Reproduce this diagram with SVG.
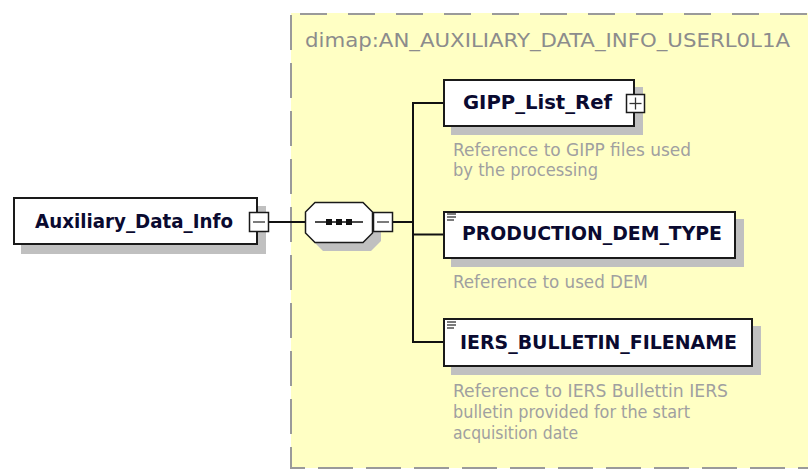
<svg xmlns="http://www.w3.org/2000/svg" width="808" height="471" viewBox="0 0 808 471">
<style>
.box{fill:#fff;stroke:#1a1a1a;stroke-width:2}
.shadow{fill:#c0c0c0}
.lbl{font-family:"DejaVu Sans Condensed","DejaVu Sans",sans-serif;font-weight:bold;font-size:20px;fill:#0a0a30}
.desc{font-family:"DejaVu Sans Condensed","DejaVu Sans",sans-serif;font-size:17px;fill:#a0a0a0}
.title{font-family:"DejaVu Sans Condensed","DejaVu Sans",sans-serif;font-size:19px;fill:#8c8c8c}
.conn{stroke:#111;stroke-width:2;fill:none}
.sym{fill:#fff;stroke:#1a1a1a;stroke-width:1.5}
.ico{stroke:#333;stroke-width:1.3}
</style>
<g id="type-group">
<rect x="291" y="13" width="517" height="455" fill="#ffffc4"/>
<line x1="300" y1="14" x2="808" y2="14" stroke="#9a9a9a" stroke-width="2" stroke-dasharray="27 21"/>
<path d="M291 15 V468 H808" fill="none" stroke="#9a9a9a" stroke-width="2" stroke-dasharray="35 13"/>
<text class="title" x="305" y="47" textLength="485" lengthAdjust="spacingAndGlyphs">dimap:AN_AUXILIARY_DATA_INFO_USERL0L1A</text>
</g>
<g id="connectors">
<line class="conn" x1="269" y1="222" x2="305" y2="222"/>
<line class="conn" x1="393" y1="222" x2="413" y2="222"/>
<line class="conn" x1="413" y1="103" x2="413" y2="343"/>
<line class="conn" x1="412" y1="103" x2="443" y2="103"/>
<line class="conn" x1="412" y1="234.5" x2="443" y2="234.5"/>
<line class="conn" x1="412" y1="342" x2="443" y2="342"/>
</g>
<g id="Auxiliary_Data_Info">
<rect class="shadow" x="21" y="206" width="245" height="48"/>
<rect class="box" x="14" y="198" width="243" height="46"/>
<text class="lbl" x="35" y="228" textLength="198" lengthAdjust="spacingAndGlyphs">Auxiliary_Data_Info</text>
<rect class="sym" x="249.5" y="212.5" width="19" height="19"/>
<line class="ico" x1="253" y1="222" x2="265" y2="222"/>
</g>
<g id="sequence">
<polygon class="shadow" points="323,210 371,210 381,220 381,241 371,251 323,251 313,241 313,220"/>
<polygon class="sym" points="315,202.5 363,202.5 372.5,212 372.5,233 363,242.5 315,242.5 305.5,233 305.5,212"/>
<line x1="315" y1="222" x2="363" y2="222" stroke="#111" stroke-width="1.5"/>
<rect x="326" y="219" width="6" height="6" fill="#111"/>
<rect x="336" y="219" width="6" height="6" fill="#111"/>
<rect x="346" y="219" width="6" height="6" fill="#111"/>
<rect class="sym" x="373.5" y="212.5" width="19" height="19"/>
<line class="ico" x1="377" y1="222" x2="389" y2="222"/>
</g>
<g id="GIPP_List_Ref">
<rect class="shadow" x="451" y="87" width="192" height="48"/>
<rect class="box" x="444" y="80" width="190" height="46"/>
<text class="lbl" x="463" y="109" textLength="149" lengthAdjust="spacingAndGlyphs">GIPP_List_Ref</text>
<rect class="sym" x="626.5" y="94.5" width="18" height="18"/>
<line class="ico" x1="629.5" y1="103.5" x2="641.5" y2="103.5"/>
<line class="ico" x1="635.5" y1="97.5" x2="635.5" y2="109.5"/>
<text class="desc" x="453" y="156" textLength="238" lengthAdjust="spacingAndGlyphs">Reference to GIPP files used</text>
<text class="desc" x="453" y="176" textLength="145" lengthAdjust="spacingAndGlyphs">by the processing</text>
</g>
<g id="PRODUCTION_DEM_TYPE">
<rect class="shadow" x="451" y="219" width="293" height="48"/>
<rect class="box" x="444" y="212" width="291" height="46"/>
<line class="ico" x1="447" y1="214" x2="456" y2="214"/>
<line class="ico" x1="447" y1="217" x2="456" y2="217"/>
<line class="ico" x1="447" y1="220" x2="454" y2="220"/>
<text class="lbl" x="462" y="240" textLength="260" lengthAdjust="spacingAndGlyphs">PRODUCTION_DEM_TYPE</text>
<text class="desc" x="453" y="288" textLength="195" lengthAdjust="spacingAndGlyphs">Reference to used DEM</text>
</g>
<g id="IERS_BULLETIN_FILENAME">
<rect class="shadow" x="451" y="326" width="310" height="49"/>
<rect class="box" x="444" y="319" width="308" height="47"/>
<line class="ico" x1="447" y1="322" x2="456" y2="322"/>
<line class="ico" x1="447" y1="325" x2="456" y2="325"/>
<line class="ico" x1="447" y1="328" x2="454" y2="328"/>
<text class="lbl" x="460" y="349" textLength="277" lengthAdjust="spacingAndGlyphs">IERS_BULLETIN_FILENAME</text>
<text class="desc" x="453" y="397" textLength="275" lengthAdjust="spacingAndGlyphs">Reference to IERS Bullettin IERS</text>
<text class="desc" x="453" y="418" textLength="237" lengthAdjust="spacingAndGlyphs">bulletin provided for the start</text>
<text class="desc" x="453" y="439" textLength="125" lengthAdjust="spacingAndGlyphs">acquisition date</text>
</g>
</svg>
